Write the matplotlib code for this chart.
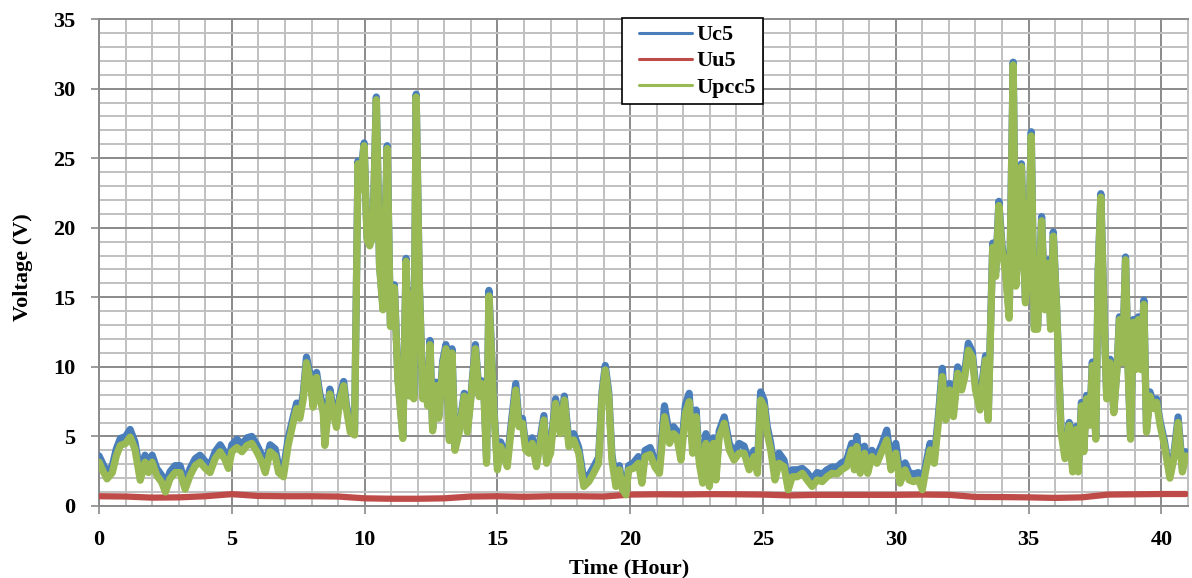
import numpy as np
import matplotlib
matplotlib.use("Agg")
from matplotlib import pyplot as plt
from matplotlib.ticker import MultipleLocator
from matplotlib.legend_handler import HandlerLine2D

# time (hour) for Uc5 / Upcc5
time_h = [
    0.00, 0.15, 0.30, 0.50, 0.65, 0.80, 1.00, 1.17, 1.35, 1.55, 1.73, 1.86,
    2.00, 2.17, 2.36, 2.50, 2.67, 2.86, 3.05, 3.24, 3.43, 3.62, 3.80, 4.00,
    4.18, 4.37, 4.56, 4.75, 4.87, 5.00, 5.19, 5.38, 5.57, 5.75, 5.94, 6.13,
    6.26, 6.44, 6.63, 6.76, 6.94, 7.12, 7.31, 7.44, 7.56, 7.69, 7.81, 7.94,
    8.06, 8.19, 8.31, 8.44, 8.50, 8.69, 8.81, 8.94, 9.06, 9.21, 9.31, 9.46,
    9.62, 9.75, 9.81, 9.98, 10.09, 10.19, 10.31, 10.44, 10.56, 10.69, 10.85, 10.97,
    11.12, 11.25, 11.44, 11.56, 11.69, 11.78, 11.85, 11.94, 12.06, 12.19, 12.28, 12.37,
    12.46, 12.56, 12.69, 12.79, 12.94, 13.06, 13.19, 13.29, 13.40, 13.56, 13.75, 13.87,
    14.00, 14.17, 14.31, 14.41, 14.50, 14.59, 14.68, 14.87, 15.00, 15.12, 15.25, 15.37,
    15.50, 15.69, 15.81, 15.94, 16.06, 16.19, 16.31, 16.47, 16.59, 16.75, 16.85, 17.00,
    17.19, 17.37, 17.52, 17.69, 17.87, 18.06, 18.25, 18.44, 18.62, 18.81, 18.94, 19.06,
    19.19, 19.31, 19.46, 19.59, 19.71, 19.84, 19.94, 20.12, 20.31, 20.44, 20.56, 20.75,
    20.93, 21.10, 21.29, 21.48, 21.63, 21.75, 21.91, 22.08, 22.22, 22.35, 22.48, 22.60,
    22.73, 22.85, 22.98, 23.13, 23.23, 23.35, 23.54, 23.73, 23.91, 24.10, 24.29, 24.48,
    24.66, 24.79, 24.91, 25.04, 25.16, 25.29, 25.45, 25.60, 25.79, 25.95, 26.10, 26.29,
    26.48, 26.66, 26.85, 27.04, 27.23, 27.41, 27.60, 27.79, 27.96, 28.15, 28.34, 28.44,
    28.53, 28.66, 28.82, 28.94, 29.10, 29.29, 29.47, 29.66, 29.82, 30.00, 30.16, 30.35,
    30.50, 30.66, 30.85, 31.00, 31.13, 31.29, 31.45, 31.60, 31.75, 31.88, 32.02, 32.17,
    32.33, 32.48, 32.60, 32.73, 32.88, 33.00, 33.17, 33.27, 33.38, 33.48, 33.65, 33.76,
    33.88, 34.00, 34.13, 34.27, 34.42, 34.52, 34.60, 34.73, 34.88, 34.98, 35.10, 35.21,
    35.34, 35.49, 35.61, 35.74, 35.83, 35.93, 36.05, 36.22, 36.37, 36.53, 36.66, 36.78,
    36.87, 36.99, 37.08, 37.18, 37.30, 37.40, 37.53, 37.62, 37.72, 37.83, 37.94, 38.07,
    38.21, 38.34, 38.42, 38.54, 38.65, 38.75, 38.84, 38.94, 39.03, 39.13, 39.23, 39.34,
    39.44, 39.57, 39.72, 39.82, 39.95, 40.11, 40.32, 40.47, 40.63, 40.79, 40.92,
]

upcc5 = [
    3.15, 2.5, 1.95, 2.4, 3.6, 4.35, 4.5, 4.95, 4.1, 1.85, 3.15, 2.4,
    3.15, 2.2, 1.7, 1.0, 1.95, 2.4, 2.4, 1.2, 2.2, 2.9, 3.15, 2.7,
    2.4, 3.4, 3.9, 3.3, 2.7, 3.9, 4.2, 3.9, 4.35, 4.5, 3.9, 3.15,
    2.4, 3.9, 3.6, 2.4, 2.1, 4.35, 6.0, 7.0, 6.3, 7.7, 10.3, 9.1,
    7.1, 9.25, 7.7, 6.75, 4.35, 8.05, 6.75, 5.65, 7.6, 8.65, 7.0, 5.3,
    5.1, 24.6, 22.7, 25.9, 19.15, 18.7, 19.4, 29.2, 17.25, 14.1, 25.7, 12.9,
    15.7, 9.1, 4.85, 17.6, 7.9, 15.3, 7.7, 29.4, 15.8, 7.7, 9.8, 7.2,
    11.6, 5.4, 8.65, 6.3, 10.1, 11.3, 4.7, 11.0, 4.0, 5.3, 7.9, 5.3,
    7.7, 11.3, 7.86, 8.8, 7.6, 3.07, 15.1, 6.66, 2.6, 4.27, 3.55, 2.83,
    5.2, 8.34, 5.7, 5.95, 4.03, 3.79, 4.5, 2.83, 4.27, 6.18, 3.07, 3.79,
    7.38, 5.2, 7.62, 4.27, 4.75, 3.79, 1.4, 1.75, 2.35, 3.07, 7.86, 9.78,
    7.86, 3.3, 1.4, 2.6, 1.17, 0.8, 2.6, 2.7, 3.07, 1.64, 3.55, 3.7,
    2.8, 2.35, 6.42, 4.5, 5.2, 4.98, 3.3, 6.66, 7.5, 3.79, 6.42, 3.07,
    1.64, 4.5, 1.4, 4.5, 1.87, 4.98, 5.95, 4.03, 3.3, 3.79, 3.79, 2.6,
    3.55, 2.35, 7.62, 7.14, 5.2, 4.03, 1.87, 3.07, 2.83, 1.17, 2.1, 2.1,
    2.35, 1.87, 1.4, 1.87, 1.75, 2.1, 2.35, 2.3, 2.6, 2.83, 4.03, 2.6,
    4.27, 2.35, 3.79, 2.35, 3.55, 3.07, 3.9, 4.75, 2.6, 3.79, 1.64, 2.6,
    1.87, 1.75, 1.87, 1.17, 2.6, 4.03, 3.07, 5.95, 9.3, 6.18, 8.34, 6.42,
    9.54, 8.34, 9.3, 11.2, 10.7, 8.34, 6.9, 8.82, 10.5, 6.18, 18.6, 16.5,
    21.6, 18.4, 16.8, 13.5, 31.7, 15.8, 17.9, 24.4, 14.6, 16.7, 26.6, 12.7,
    12.7, 20.5, 14.1, 17.45, 12.7, 19.4, 14.4, 5.3, 3.4, 5.8, 2.45, 5.5,
    2.45, 7.2, 3.9, 7.7, 5.8, 10.1, 4.8, 16.7, 22.2, 14.4, 7.7, 10.3,
    6.7, 10.1, 13.4, 10.3, 17.7, 9.6, 4.8, 13.2, 9.8, 13.4, 9.8, 14.5,
    5.3, 7.9, 7.0, 7.45, 5.8, 4.4, 2.0, 3.4, 6.0, 2.45, 3.6,
]

uc5 = [
    3.6, 3.0, 2.4, 2.9, 4.1, 4.85, 5.0, 5.5, 4.6, 2.35, 3.65, 2.9,
    3.65, 2.7, 2.2, 1.5, 2.45, 2.9, 2.9, 1.7, 2.7, 3.4, 3.65, 3.2,
    2.9, 3.9, 4.4, 3.8, 3.2, 4.4, 4.8, 4.4, 4.9, 5.0, 4.4, 3.65,
    2.9, 4.4, 4.1, 2.9, 2.6, 4.85, 6.4, 7.4, 6.7, 8.1, 10.7, 9.5,
    7.5, 9.6, 8.1, 7.1, 4.7, 8.4, 7.1, 6.0, 7.9, 8.95, 7.3, 5.6,
    5.4, 24.8, 22.9, 26.1, 19.3, 18.9, 19.6, 29.4, 17.4, 14.3, 25.9, 13.1,
    15.9, 9.3, 5.1, 17.8, 8.1, 15.5, 7.9, 29.6, 16.0, 7.9, 10.0, 7.4,
    11.9, 5.6, 8.9, 6.5, 10.4, 11.6, 4.9, 11.3, 4.2, 5.5, 8.1, 5.5,
    7.9, 11.6, 8.1, 9.0, 7.9, 3.4, 15.5, 7.0, 2.9, 4.6, 3.9, 3.2,
    5.6, 8.8, 6.1, 6.3, 4.4, 4.2, 4.9, 3.2, 4.6, 6.5, 3.4, 4.2,
    7.7, 5.6, 7.9, 4.7, 5.2, 4.2, 1.9, 2.2, 2.8, 3.5, 8.2, 10.1,
    8.2, 3.7, 1.8, 2.9, 1.5, 1.1, 2.9, 3.1, 3.55, 2.0, 4.0, 4.2,
    3.3, 2.8, 7.2, 5.0, 5.7, 5.4, 3.7, 7.3, 8.1, 4.3, 6.9, 3.5,
    2.0, 5.2, 1.8, 4.9, 2.3, 5.4, 6.4, 4.5, 3.8, 4.5, 4.3, 3.1,
    4.0, 2.8, 8.2, 7.6, 5.7, 4.5, 2.3, 3.8, 3.3, 1.6, 2.6, 2.6,
    2.7, 2.4, 1.9, 2.4, 2.3, 2.6, 2.8, 2.8, 3.1, 3.3, 4.5, 3.1,
    5.0, 2.9, 4.3, 2.9, 4.0, 3.6, 4.4, 5.45, 3.1, 4.5, 2.2, 3.1,
    2.4, 2.3, 2.4, 1.6, 3.0, 4.5, 3.5, 6.4, 9.9, 6.6, 8.8, 6.8,
    10.0, 8.8, 9.7, 11.7, 11.1, 8.7, 7.3, 9.2, 10.8, 6.5, 18.9, 16.8,
    21.9, 18.7, 17.1, 13.8, 31.9, 16.0, 18.1, 24.6, 14.8, 16.9, 26.9, 12.9,
    12.9, 20.8, 14.3, 17.7, 12.9, 19.7, 14.6, 5.6, 3.7, 6.0, 2.7, 5.7,
    2.7, 7.45, 4.1, 7.95, 6.0, 10.35, 5.0, 16.9, 22.45, 14.6, 7.9, 10.55,
    6.9, 10.3, 13.6, 10.5, 17.9, 9.8, 5.0, 13.4, 10.0, 13.6, 10.0, 14.8,
    5.5, 8.2, 7.3, 7.7, 6.1, 4.7, 2.3, 3.7, 6.4, 2.7, 3.9,
]

# Uu5 is almost flat, read once per hour
uu_time = list(range(0, 41)) + [40.92]
uu5 = [
    0.70, 0.68, 0.60, 0.62, 0.70, 0.85, 0.72, 0.70, 0.70, 0.68,
    0.55, 0.52, 0.52, 0.55, 0.68, 0.70, 0.66, 0.70, 0.70, 0.68,
    0.82, 0.84, 0.83, 0.85, 0.84, 0.82, 0.76, 0.80, 0.80, 0.80,
    0.80, 0.82, 0.80, 0.65, 0.64, 0.62, 0.58, 0.62, 0.82, 0.84,
    0.86, 0.86,
]


class IndentedLine(HandlerLine2D):
    # legend line that starts a bit in from the left edge of the box
    def create_artists(self, legend, orig_handle, xdescent, ydescent,
                       width, height, fontsize, trans):
        arts = super().create_artists(legend, orig_handle, xdescent, ydescent,
                                      width, height, fontsize, trans)
        for a in arts:
            xd = np.asarray(a.get_xdata(), dtype=float)
            if len(xd) > 1:
                a.set_xdata(np.linspace(xd[0] + 7.5, xd[-1], len(xd)))
        return arts


plt.rcParams['font.family'] = ['Liberation Serif', 'DejaVu Serif']
plt.rcParams['font.weight'] = 'bold'

fig = plt.figure(figsize=(11.92, 5.78), dpi=100)
ax = fig.add_subplot(1, 1, 1)
fig.subplots_adjust(left=0.0831, right=0.9966, top=0.967, bottom=0.1246)

line_kw = dict(solid_capstyle='round', solid_joinstyle='round')
ax.plot(time_h, uc5, color='#4a7ebb', lw=5.2, label='Uc5', zorder=3, **line_kw)
ax.plot(uu_time, uu5, color='#be4b48', lw=4.5, label='Uu5', zorder=4, **line_kw)
ax.plot(time_h, upcc5, color='#98b954', lw=5.2, label='Upcc5', zorder=5, **line_kw)

ax.set_xlim(0, 41)
ax.set_ylim(0, 35)
ax.xaxis.set_major_locator(MultipleLocator(5))
ax.xaxis.set_minor_locator(MultipleLocator(1))
ax.yaxis.set_major_locator(MultipleLocator(5))
ax.yaxis.set_minor_locator(MultipleLocator(1))

ax.grid(which='minor', color='#c0c0c0', lw=1.4, zorder=0)
ax.grid(which='major', color='#8a8a8a', lw=1.4, zorder=1)
ax.set_axisbelow(True)

ax.tick_params(which='major', direction='out', length=6, width=1.2,
               color='#8a8a8a', labelsize=16, pad=11)
ax.tick_params(which='minor', length=0)
for s in ['left', 'bottom', 'top']:
    ax.spines[s].set_color('#8a8a8a')
    ax.spines[s].set_linewidth(1.4)
ax.spines['right'].set_color('#c0c0c0')
ax.spines['right'].set_linewidth(1.4)

for lab in ax.get_xticklabels() + ax.get_yticklabels():
    lab.set_fontweight('bold')

ax.set_xlabel('Time (Hour)', fontsize=16, fontweight='bold')
ax.set_ylabel('Voltage (V)', fontsize=16, fontweight='bold')
ax.xaxis.set_label_coords(0.487, -0.108)
ax.yaxis.set_label_coords(-0.061, 0.49)

handles, labels = ax.get_legend_handles_labels()
leg = ax.legend(handles, labels, loc='upper left',
                bbox_to_anchor=(0.480, 1.002), borderaxespad=0,
                prop={'size': 16, 'weight': 'bold'}, handlelength=2.85,
                handletextpad=0.22, labelspacing=0.25, borderpad=0.3,
                fancybox=False, framealpha=1, edgecolor='black',
                handler_map={h: IndentedLine() for h in handles})
leg.get_frame().set_linewidth(1.2)
for h in leg.get_lines():
    h.set_linewidth(2.2)
leg.set_zorder(10)

fig.savefig('out.png', dpi=100)
